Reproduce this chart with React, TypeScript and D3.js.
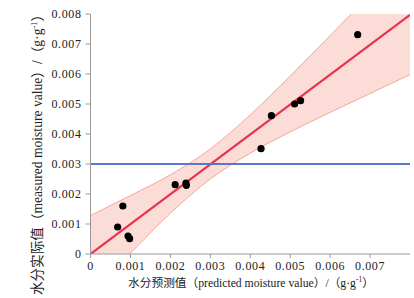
import React from "react";
import * as d3 from "d3";

const predicted = [0.00068, 0.00081, 0.00094, 0.00098, 0.00212, 0.00239, 0.0024, 0.00427, 0.00453, 0.00511, 0.00526, 0.00669];
const measured = [0.0009, 0.0016, 0.0006, 0.00051, 0.00231, 0.00236, 0.00229, 0.00351, 0.00461, 0.005, 0.00511, 0.00731];

const fitX = [0, 0.008];
const fitY = [0, 0.00797];

const bandX = [0, 0.001, 0.002, 0.003, 0.004, 0.005, 0.006, 0.007, 0.008];
const bandUpper = [0.00128, 0.00195, 0.00264, 0.0035, 0.00464, 0.00593, 0.00728, 0.00865, 0.01002];
const bandLower = [-0.00128, 0.00003, 0.00136, 0.0025, 0.00336, 0.00407, 0.00472, 0.00535, 0.00598];

const threshold = 0.003;

const xTicks = [0, 0.001, 0.002, 0.003, 0.004, 0.005, 0.006, 0.007];
const yTicks = [0, 0.001, 0.002, 0.003, 0.004, 0.005, 0.006, 0.007, 0.008];

const W = 414, H = 298;
const left = 90.5, right = 410, top = 14, bottom = 254;

export default function App() {
  const x = d3.scaleLinear().domain([0, 0.008]).range([left, right]);
  const y = d3.scaleLinear().domain([0, 0.008]).range([bottom, top]);

  const area = d3.area<number>()
    .x((_, i) => x(bandX[i]))
    .y0((_, i) => y(bandLower[i]))
    .y1((_, i) => y(bandUpper[i]))
    .curve(d3.curveMonotoneX);
  const upperLine = d3.line<number>().x((_, i) => x(bandX[i])).y((_, i) => y(bandUpper[i])).curve(d3.curveMonotoneX);
  const lowerLine = d3.line<number>().x((_, i) => x(bandX[i])).y((_, i) => y(bandLower[i])).curve(d3.curveMonotoneX);
  const fitLine = d3.line<number>().x((_, i) => x(fitX[i])).y((_, i) => y(fitY[i]));

  const fmt = (v: number) => (v === 0 ? "0" : d3.format(".3f")(v));
  const tickFont = "'Liberation Serif', 'Times New Roman', serif";
  const labelFont = "'Liberation Serif', 'Noto Sans CJK SC', serif";
  const axisColor = "#9a9a9a";

  return (
    <svg width={W} height={H} style={{ position: "absolute", left: 0, top: 0, background: "#fff" }}>
      <defs>
        <clipPath id="plot">
          <rect x={left} y={top} width={right - left} height={bottom - top} />
        </clipPath>
      </defs>
      <g clipPath="url(#plot)">
        <path d={area(bandX) || ""} fill="#fcdcd7" />
        <path d={upperLine(bandX) || ""} fill="none" stroke="#f5a59b" strokeWidth={1} />
        <path d={lowerLine(bandX) || ""} fill="none" stroke="#f5a59b" strokeWidth={1} />
        <path d={fitLine(fitX) || ""} fill="none" stroke="#e8334c" strokeWidth={2.2} />
      </g>
      <line x1={x(0)} x2={right} y1={y(threshold)} y2={y(threshold)} stroke="#5a78c8" strokeWidth={2} />
      {predicted.map((p, i) => (
        <circle key={i} cx={x(p)} cy={y(measured[i])} r={3.6} fill="#000" />
      ))}
      <line x1={left} x2={left} y1={top} y2={bottom} stroke={axisColor} strokeWidth={1} />
      <line x1={left} x2={right} y1={bottom} y2={bottom} stroke={axisColor} strokeWidth={1} />
      {yTicks.map((t) => (
        <g key={"y" + t}>
          <line x1={left - 5} x2={left} y1={y(t)} y2={y(t)} stroke={axisColor} />
          <text x={left - 9} y={y(t)} dy="0.35em" textAnchor="end" fontFamily={tickFont} fontSize={12} letterSpacing={0.6} fill="#222">
            {fmt(t)}
          </text>
        </g>
      ))}
      {xTicks.map((t) => (
        <g key={"x" + t}>
          <line x1={x(t)} x2={x(t)} y1={bottom} y2={bottom + 4} stroke={axisColor} />
          <text x={x(t)} y={bottom + 16} textAnchor="middle" fontFamily={tickFont} fontSize={12} letterSpacing={0.6} fill="#222">
            {fmt(t)}
          </text>
        </g>
      ))}
      <text x={251} y={287} textAnchor="middle" fontFamily={labelFont} fontSize={11.7} fill="#222">
        水分预测值（predicted moisture value）/（g·g<tspan fontSize={7.5} dy={-5}>-1</tspan><tspan dy={5}>）</tspan>
      </text>
      <text transform={`translate(42,${151.5}) rotate(-90)`} textAnchor="middle" fontFamily={labelFont} fontSize={13.6} fill="#222">
        水分实际值（measured moisture value）/（g·g<tspan fontSize={8.5} dy={-5}>-1</tspan><tspan dy={5}>）</tspan>
      </text>
    </svg>
  );
}
